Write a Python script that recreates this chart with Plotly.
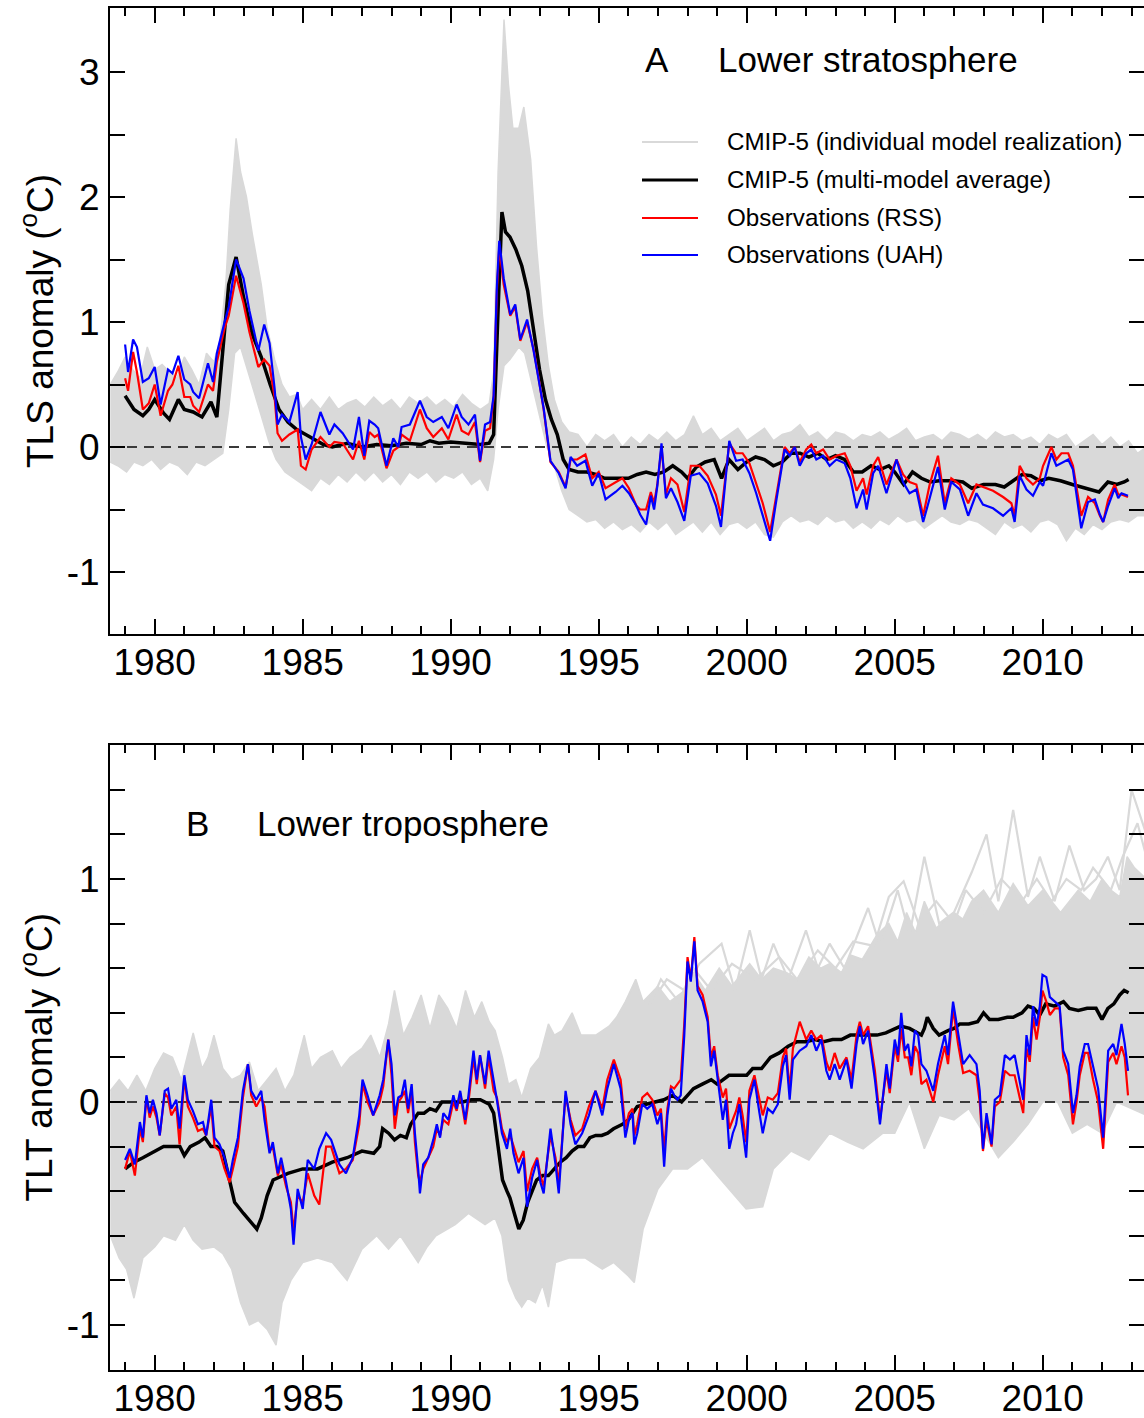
import plotly.graph_objects as go

# ---------------- Panel A : lower stratosphere (TLS) ----------------
A_OBS_T = [1979.0, 1979.1, 1979.27, 1979.4, 1979.6, 1979.8, 1980.0, 1980.2, 1980.45, 1980.6,
           1980.8, 1981.0, 1981.2, 1981.3, 1981.5, 1981.8, 1981.97, 1982.1, 1982.36, 1982.5,
           1982.75, 1983.0, 1983.2, 1983.5, 1983.7, 1983.88, 1984.05, 1984.15, 1984.3, 1984.55,
           1984.83, 1984.94, 1985.1, 1985.3, 1985.6, 1985.9, 1986.07, 1986.35, 1986.7, 1986.9,
           1987.08, 1987.25,
           1987.43, 1987.55, 1987.83, 1988.06, 1988.23, 1988.34, 1988.62, 1988.96, 1989.19, 1989.41,
           1989.7, 1989.92, 1990.2, 1990.37, 1990.6, 1990.82, 1990.99, 1991.16, 1991.33, 1991.45,
           1991.56, 1991.64, 1991.79, 1992.01, 1992.18, 1992.35, 1992.58, 1992.8, 1992.97, 1993.14,
           1993.37, 1993.65, 1993.88, 1994.05, 1994.27, 1994.55, 1994.78, 1995.0, 1995.23, 1995.57,
           1995.8, 1996.02,
           1996.27, 1996.4, 1996.6, 1996.76, 1996.87, 1996.98, 1997.12, 1997.27, 1997.44, 1997.66,
           1997.89, 1998.11, 1998.4, 1998.68, 1998.96, 1999.13, 1999.41, 1999.64, 1999.86, 2000.09,
           2000.32, 2000.54, 2000.79, 2000.99, 2001.28, 2001.45, 2001.62, 2001.79, 2002.01, 2002.18,
           2002.35, 2002.58, 2002.8, 2003.03, 2003.31, 2003.5, 2003.71, 2003.93, 2004.05, 2004.27,
           2004.44,
           2004.72, 2005.06, 2005.28, 2005.5, 2005.73, 2005.96, 2006.18, 2006.46, 2006.69, 2006.91,
           2007.2, 2007.48, 2007.76, 2007.98, 2008.32, 2008.66, 2008.94, 2009.05, 2009.22, 2009.45,
           2009.67, 2009.9, 2010.01, 2010.29, 2010.46, 2010.63, 2010.86, 2011.02, 2011.3, 2011.53,
           2011.76, 2011.93, 2012.04, 2012.21, 2012.43, 2012.55, 2012.66, 2012.88]

A_UAH = [0.82, 0.6, 0.86, 0.8, 0.52, 0.55, 0.64, 0.34, 0.62, 0.59,
         0.73, 0.54, 0.5, 0.44, 0.39, 0.67, 0.52, 0.75, 1.0, 1.12,
         1.5, 1.35, 1.09, 0.77, 0.98, 0.83, 0.47, 0.18, 0.26, 0.2,
         0.44, 0.08, -0.1, 0.02, 0.28, 0.1, 0.18, 0.11, -0.02, 0.24,
         -0.07, 0.21,
         0.18, 0.15, -0.15, 0.07, 0.0, 0.16, 0.18, 0.37, 0.24, 0.2,
         0.24, 0.15, 0.34, 0.24, 0.18, 0.26, -0.11, 0.18, 0.2, 0.41,
         1.29, 1.65, 1.35, 1.06, 1.14, 0.86, 1.02, 0.77, 0.54, 0.31,
         -0.11, -0.21, -0.33, -0.08, -0.15, -0.11, -0.31, -0.21, -0.42, -0.36,
         -0.31, -0.37,
         -0.47, -0.54, -0.62, -0.39, -0.5, -0.31, 0.03, -0.41, -0.33, -0.44,
         -0.59, -0.23, -0.21, -0.29, -0.47, -0.64, 0.05, -0.11, -0.1, -0.21,
         -0.37, -0.54, -0.75, -0.44, -0.02, -0.07, 0.0, -0.15, -0.05, -0.02,
         -0.1, -0.07, -0.15, -0.1, -0.13, -0.25, -0.49, -0.34, -0.5, -0.21,
         -0.15,
         -0.37, -0.1, -0.28, -0.37, -0.34, -0.6, -0.41, -0.16, -0.5, -0.28,
         -0.34, -0.55, -0.37, -0.46, -0.49, -0.55, -0.49, -0.6, -0.23, -0.34,
         -0.39, -0.28, -0.31, -0.05, -0.15, -0.13, -0.1, -0.18, -0.65, -0.44,
         -0.42, -0.54, -0.6, -0.47, -0.33, -0.41, -0.37, -0.39]

A_RSS = [0.55, 0.45, 0.76, 0.6, 0.3, 0.35, 0.5, 0.25, 0.45, 0.5,
         0.65, 0.4, 0.4, 0.33, 0.28, 0.5, 0.45, 0.68, 0.95, 1.05,
         1.37, 1.15, 0.92, 0.64, 0.7, 0.65, 0.4, 0.11, 0.05, 0.1,
         0.14, -0.15, -0.18, -0.02, 0.08, 0.0, 0.04, 0.03, -0.1, 0.05,
         -0.1, 0.12,
         0.08, 0.1, -0.17, -0.03, 0.0, 0.1, 0.05, 0.3, 0.15, 0.08,
         0.15, 0.06, 0.26, 0.13, 0.1, 0.2, -0.12, 0.13, 0.15, 0.4,
         1.25, 1.6, 1.3, 1.05, 1.12, 0.85, 1.0, 0.78, 0.55, 0.3,
         -0.12, -0.2, -0.32, -0.1, -0.1, -0.06, -0.25, -0.2, -0.33, -0.28,
         -0.25, -0.33,
         -0.47, -0.5, -0.5, -0.36, -0.45, -0.3, 0.0, -0.38, -0.25, -0.3,
         -0.52, -0.15, -0.15, -0.23, -0.38, -0.55, 0.03, -0.05, -0.05, -0.13,
         -0.3, -0.45, -0.68, -0.4, 0.0, -0.05, 0.0, -0.12, -0.02, 0.02,
         -0.05, -0.02, -0.1, -0.07, -0.05, -0.15, -0.35, -0.25, -0.38, -0.15,
         -0.08,
         -0.3, -0.1, -0.22, -0.28, -0.3, -0.55, -0.3, -0.07, -0.45, -0.25,
         -0.3, -0.45, -0.3, -0.32, -0.35, -0.4, -0.45, -0.55, -0.15, -0.25,
         -0.3, -0.25, -0.15, 0.0, -0.1, -0.05, -0.05, -0.15, -0.55, -0.4,
         -0.45, -0.55, -0.6, -0.42, -0.3, -0.38, -0.38, -0.4]

A_MEAN_T = [1979.0, 1979.3, 1979.6, 1979.8, 1980.0, 1980.3, 1980.5, 1980.8, 1981.0, 1981.3,
            1981.6, 1981.9, 1982.1, 1982.3, 1982.5, 1982.75, 1983.0, 1983.3, 1983.6, 1983.9,
            1984.2, 1984.5, 1984.8, 1985.1, 1985.4, 1985.7, 1986.0, 1986.5, 1987.0, 1987.5,
            1988.0, 1988.5, 1989.0, 1989.3, 1989.6, 1990.0, 1990.5, 1991.0, 1991.3, 1991.45,
            1991.6, 1991.73, 1991.85, 1992.0, 1992.2, 1992.4, 1992.6, 1992.8, 1993.0, 1993.2,
            1993.4, 1993.6, 1993.8, 1994.0, 1994.3, 1994.6, 1994.9, 1995.2, 1995.6, 1996.0,
            1996.3, 1996.6, 1996.9, 1997.2, 1997.5, 1997.8, 1998.0, 1998.3, 1998.6, 1998.9,
            1999.15, 1999.4, 1999.7, 2000.0, 2000.3, 2000.6, 2000.9, 2001.2, 2001.5, 2001.8,
            2002.1, 2002.4, 2002.7, 2003.0, 2003.3, 2003.6, 2003.9, 2004.2, 2004.5, 2004.8,
            2005.0, 2005.3, 2005.6, 2005.9, 2006.2, 2006.5, 2007.0, 2007.3, 2007.6, 2008.0,
            2008.4, 2008.7, 2009.0, 2009.3, 2009.6, 2009.9, 2010.2, 2010.6, 2011.0, 2011.5,
            2011.9, 2012.2, 2012.5, 2012.75, 2012.9]
A_MEAN = [0.41, 0.3, 0.25, 0.3, 0.38, 0.27, 0.22, 0.38, 0.3, 0.28,
          0.24, 0.36, 0.24, 0.75, 1.3, 1.52, 1.2, 0.9, 0.72, 0.5,
          0.3, 0.2, 0.14, 0.1, 0.06, 0.02, 0.0, 0.03, 0.0, 0.02,
          0.01, 0.03, 0.02, 0.05, 0.03, 0.04, 0.03, 0.02, 0.03, 0.1,
          1.1, 1.88, 1.72, 1.68, 1.58, 1.45, 1.25, 0.95, 0.62, 0.38,
          0.22, 0.1, -0.1, -0.18, -0.2, -0.2, -0.22, -0.25, -0.25, -0.25,
          -0.22, -0.2, -0.22, -0.2, -0.15, -0.2, -0.25, -0.16, -0.12, -0.1,
          -0.25, -0.1, -0.18, -0.12, -0.08, -0.1, -0.15, -0.12, -0.05, -0.05,
          -0.08, -0.05, -0.1, -0.07, -0.1, -0.2, -0.2, -0.15, -0.18, -0.15,
          -0.2, -0.3, -0.2, -0.25, -0.28, -0.27, -0.27, -0.28, -0.33, -0.3,
          -0.3, -0.32, -0.27, -0.22, -0.23, -0.27, -0.25, -0.27, -0.3, -0.33,
          -0.36, -0.28, -0.3, -0.28, -0.26]

A_UP_T = [1978.5, 1978.75, 1979.0, 1979.25, 1979.5, 1979.75, 1980.0, 1980.25, 1980.5, 1980.75,
          1981.0, 1981.25, 1981.5, 1981.75, 1982.0, 1982.2, 1982.4, 1982.55, 1982.75, 1982.9,
          1983.1, 1983.3, 1983.6, 1983.8, 1984.05, 1984.3, 1984.55, 1984.8, 1985.0, 1985.3,
          1985.6, 1985.9, 1986.2, 1986.5, 1986.8, 1987.1, 1987.4, 1987.7, 1988.0, 1988.3,
          1988.6, 1988.9, 1989.2, 1989.5, 1989.8, 1990.1, 1990.4, 1990.7, 1991.0, 1991.3,
          1991.45, 1991.6, 1991.8, 1991.95, 1992.1, 1992.3, 1992.47, 1992.7, 1992.9, 1993.1,
          1993.3, 1993.5, 1993.75, 1994.0, 1994.3, 1994.6, 1994.9, 1995.2, 1995.5, 1995.8,
          1996.1, 1996.4, 1996.7, 1997.0, 1997.3, 1997.6, 1997.9, 1998.2, 1998.5, 1998.8,
          1999.1, 1999.4, 1999.7, 2000.0, 2000.3, 2000.6, 2000.9, 2001.2, 2001.5, 2001.8,
          2002.1, 2002.4, 2002.7, 2003.0, 2003.3, 2003.6, 2003.9, 2004.2, 2004.5, 2004.8,
          2005.1, 2005.4, 2005.7, 2006.0, 2006.3, 2006.6, 2006.9, 2007.2, 2007.5, 2007.8,
          2008.1, 2008.4, 2008.7, 2009.0, 2009.3, 2009.6, 2009.9, 2010.2, 2010.5, 2010.8,
          2011.1, 2011.4, 2011.7, 2012.0, 2012.3, 2012.6, 2012.9, 2013.2, 2013.5]
A_UP = [0.5, 0.6, 0.72, 0.62, 0.55, 0.8, 0.62, 0.66, 0.6, 0.55,
        0.72, 0.62, 0.5, 0.75, 0.68, 0.85, 1.3, 1.9, 2.47, 2.2,
        2.0, 1.7, 1.3, 0.95, 0.7, 0.5, 0.4, 0.42, 0.3, 0.38,
        0.3, 0.4, 0.3, 0.35, 0.38, 0.32, 0.4, 0.33, 0.38, 0.3,
        0.4, 0.35, 0.4, 0.33, 0.38, 0.32, 0.42, 0.35, 0.3, 0.35,
        0.6, 2.2, 3.42, 2.9, 2.55, 2.55, 2.72, 2.3, 1.6, 1.05,
        0.65, 0.38, 0.2, 0.12, 0.1, 0.0, 0.1, 0.05, 0.1, 0.0,
        0.08, 0.02, 0.1, 0.05, 0.12, 0.05, 0.1, 0.25, 0.1, 0.15,
        0.05, 0.1, 0.15, 0.05, 0.1, 0.15, 0.05, 0.1, 0.12, 0.18,
        0.08, 0.12, 0.05, 0.12, 0.1, 0.05, 0.1, 0.08, 0.12, 0.06,
        0.1, 0.15, 0.05, 0.08, 0.1, 0.05, 0.12, 0.1, 0.06, 0.1,
        0.05, 0.12, 0.08, 0.1, 0.05, 0.08, 0.02, 0.1, 0.06, 0.1,
        0.0, 0.05, 0.1, 0.02, 0.08, 0.0, 0.05, -0.05, 0.0]

A_LO_T = [1978.5, 1978.75, 1979.05, 1979.3, 1979.6, 1979.9, 1980.2, 1980.5, 1980.8, 1981.1,
          1981.4, 1981.7, 1982.0, 1982.3, 1982.5, 1982.7, 1982.9, 1983.1, 1983.35, 1983.6,
          1983.85, 1984.1, 1984.4, 1984.7, 1985.0, 1985.3, 1985.6, 1985.9, 1986.2, 1986.5,
          1986.8, 1987.1, 1987.4, 1987.7, 1988.0, 1988.3, 1988.6, 1988.9, 1989.2, 1989.5,
          1989.8, 1990.1, 1990.4, 1990.7, 1991.0, 1991.25, 1991.45, 1991.6, 1991.8, 1992.0,
          1992.3, 1992.5, 1992.75, 1993.0, 1993.25, 1993.5, 1993.75, 1994.0, 1994.3, 1994.6,
          1994.9, 1995.2, 1995.5, 1995.8, 1996.1, 1996.4, 1996.7, 1997.0, 1997.3, 1997.6,
          1997.9, 1998.2, 1998.5, 1998.8, 1999.1, 1999.4, 1999.7, 2000.0, 2000.3, 2000.6,
          2000.9, 2001.2, 2001.5, 2001.8, 2002.1, 2002.4, 2002.7, 2003.0, 2003.3, 2003.6,
          2003.9, 2004.2, 2004.5, 2004.8, 2005.1, 2005.4, 2005.7, 2006.0, 2006.3, 2006.6,
          2006.9, 2007.2, 2007.5, 2007.8, 2008.1, 2008.4, 2008.7, 2009.0, 2009.3, 2009.6,
          2009.9, 2010.2, 2010.5, 2010.8, 2011.1, 2011.4, 2011.7, 2012.0, 2012.3, 2012.6,
          2012.9, 2013.2, 2013.5]
A_LO = [-0.12, -0.15, -0.2, -0.12, -0.15, -0.1, -0.18, -0.12, -0.15, -0.22,
        -0.12, -0.15, -0.1, -0.05, 0.3, 0.75, 0.8, 0.65, 0.45, 0.25,
        0.05, -0.1, -0.2, -0.25, -0.3, -0.35, -0.25, -0.3, -0.22, -0.28,
        -0.2, -0.27, -0.2, -0.28, -0.22, -0.3, -0.2, -0.25, -0.2, -0.28,
        -0.22, -0.25, -0.2, -0.3, -0.25, -0.35, -0.1, 0.3, 0.65, 0.7,
        0.8, 0.75, 0.5, 0.25, 0.0, -0.15, -0.35, -0.5, -0.55, -0.6,
        -0.58, -0.65, -0.6, -0.66, -0.62, -0.68, -0.6, -0.66, -0.6, -0.7,
        -0.65, -0.6, -0.68, -0.6, -0.7, -0.62, -0.6, -0.65, -0.6, -0.7,
        -0.72, -0.6, -0.55, -0.6, -0.58, -0.62, -0.55, -0.6, -0.58, -0.65,
        -0.6, -0.65, -0.58, -0.62, -0.55, -0.6, -0.58, -0.65, -0.6, -0.55,
        -0.6, -0.62, -0.58, -0.6, -0.65, -0.7, -0.6, -0.65, -0.62, -0.68,
        -0.6, -0.58, -0.62, -0.75, -0.65, -0.7, -0.62, -0.66, -0.6, -0.58,
        -0.6, -0.55, -0.55]

# ---------------- Panel B : lower troposphere (TLT) ----------------
B_OBS_T = [1979.0, 1979.16, 1979.33, 1979.5, 1979.6, 1979.72, 1979.83, 1979.94, 1980.06, 1980.17,
           1980.34, 1980.45, 1980.56, 1980.73, 1980.84, 1981.0, 1981.12, 1981.29, 1981.46, 1981.63,
           1981.74, 1981.91, 1982.02, 1982.19, 1982.36, 1982.53, 1982.64, 1982.81, 1982.98, 1983.15,
           1983.26, 1983.43, 1983.6, 1983.71, 1983.88, 1983.99, 1984.16, 1984.27, 1984.44, 1984.6,
           1984.69, 1984.83, 1985.0, 1985.17, 1985.39, 1985.56, 1985.79, 1985.96, 1986.24, 1986.46,
           1986.69, 1986.91, 1987.02, 1987.19,
           1987.38, 1987.6, 1987.72, 1987.89, 1988.0, 1988.11, 1988.23, 1988.34, 1988.45, 1988.56,
           1988.68, 1988.79, 1988.9, 1988.96, 1989.07, 1989.24, 1989.41, 1989.53, 1989.64, 1989.75,
           1989.92, 1990.09, 1990.2, 1990.32, 1990.49, 1990.6, 1990.77, 1990.88, 1990.99, 1991.16,
           1991.28, 1991.45, 1991.56, 1991.73, 1991.9, 1992.01, 1992.12, 1992.29, 1992.46, 1992.58,
           1992.75, 1992.92, 1993.03, 1993.14, 1993.37, 1993.54, 1993.65, 1993.88, 1994.05, 1994.21,
           1994.44, 1994.67, 1994.89, 1995.12, 1995.29, 1995.51, 1995.74, 1995.9,
           1996.02, 1996.14, 1996.2, 1996.3, 1996.47, 1996.64, 1996.81, 1996.98, 1997.1, 1997.21,
           1997.32, 1997.44, 1997.55, 1997.66, 1997.77, 1997.89, 1998.0, 1998.11, 1998.23, 1998.34,
           1998.51, 1998.68, 1998.79, 1998.9, 1999.02, 1999.19, 1999.3, 1999.41, 1999.53, 1999.64,
           1999.75, 1999.86, 1999.98, 2000.09, 2000.26, 2000.43, 2000.54, 2000.71, 2000.88, 2001.05,
           2001.22, 2001.33, 2001.45, 2001.56, 2001.79, 2002.01, 2002.18, 2002.35, 2002.52, 2002.69,
           2002.8, 2002.97, 2003.14, 2003.37, 2003.54, 2003.71, 2003.82, 2003.93, 2004.1, 2004.33,
           2004.5, 2004.72, 2004.83, 2005.0, 2005.11, 2005.22, 2005.34, 2005.45, 2005.56, 2005.68,
           2005.79, 2005.9, 2006.07, 2006.3, 2006.46, 2006.69, 2006.8, 2006.97, 2007.14, 2007.31,
           2007.53, 2007.76, 2007.87, 2007.98, 2008.1, 2008.27, 2008.38, 2008.55, 2008.72, 2008.89,
           2009.05, 2009.22, 2009.34, 2009.45, 2009.56, 2009.67, 2009.79, 2009.9, 2009.99, 2010.12,
           2010.24, 2010.41, 2010.57, 2010.69, 2010.86, 2011.02, 2011.14, 2011.25, 2011.42, 2011.53,
           2011.7, 2011.87, 2012.04, 2012.21, 2012.38, 2012.49, 2012.66, 2012.77, 2012.88]

B_UAH = [-0.26, -0.21, -0.28, -0.09, -0.16, 0.03, -0.05, 0.01, -0.05, -0.15,
         0.05, 0.06, -0.03, 0.01, -0.12, 0.12, 0.01, -0.04, -0.1, -0.09,
         -0.15, 0.01, -0.16, -0.19, -0.25, -0.34, -0.26, -0.16, 0.05, 0.17,
         0.05, 0.01, 0.05, -0.08, -0.23, -0.18, -0.32, -0.25, -0.36, -0.48,
         -0.64, -0.39, -0.48, -0.26, -0.3, -0.21, -0.14, -0.17, -0.28, -0.32,
         -0.25, -0.06, 0.1, 0.03,
         -0.06, 0.03, 0.1, 0.28, 0.17, -0.06, 0.02, 0.03, 0.1, -0.03,
         0.08, -0.14, -0.3, -0.41, -0.28, -0.25, -0.17, -0.1, -0.16, -0.05,
         -0.08, 0.03, -0.03, 0.05, -0.08, 0.03, 0.23, 0.1, 0.21, 0.08,
         0.23, 0.1, 0.01, -0.14, -0.21, -0.12, -0.23, -0.32, -0.25, -0.47,
         -0.34, -0.26, -0.36, -0.41, -0.12, -0.28, -0.41, 0.05, -0.1, -0.19,
         -0.14, -0.06, 0.05, -0.06, 0.06, 0.17, 0.06, -0.16,
         -0.08, -0.05, -0.19, -0.14, -0.01, -0.03, -0.01, -0.1, -0.05, -0.29,
         -0.06, 0.06, 0.03, 0.01, 0.03, 0.3, 0.63, 0.54, 0.72, 0.5,
         0.45, 0.36, 0.16, 0.23, 0.1, -0.08, 0.01, -0.21, -0.14, -0.1,
         -0.01, -0.12, -0.25, 0.01, 0.1, -0.05, -0.14, -0.03, -0.05, -0.01,
         0.16, 0.21, 0.01, 0.19, 0.23, 0.25, 0.3, 0.23, 0.28, 0.14,
         0.1, 0.17, 0.1, 0.19, 0.06, 0.26, 0.34, 0.26, 0.32, 0.1,
         -0.1, 0.17, 0.06, 0.28, 0.21, 0.4, 0.23, 0.26, 0.16, 0.32,
         0.3, 0.17, 0.14, 0.05, 0.17, 0.3, 0.21, 0.45, 0.3, 0.17,
         0.21, 0.17, 0.05, -0.21, -0.05, -0.19, 0.01, 0.03, 0.21, 0.19,
         0.21, 0.1, 0.01, 0.3, 0.21, 0.43, 0.34, 0.43, 0.57, 0.56,
         0.47, 0.45, 0.43, 0.23, 0.17, -0.05, 0.03, 0.16, 0.26, 0.26,
         0.16, 0.06, -0.16, 0.23, 0.26, 0.21, 0.35, 0.26, 0.14]

B_RSS = [-0.3, -0.22, -0.33, -0.12, -0.18, 0.02, -0.07, -0.02, -0.07, -0.15,
         0.04, 0.02, -0.06, -0.02, -0.19, 0.11, -0.02, -0.07, -0.13, -0.12,
         -0.15, -0.02, -0.2, -0.22, -0.3, -0.36, -0.3, -0.2, 0.02, 0.17,
         0.03, -0.02, 0.02, -0.02, -0.22, -0.2, -0.33, -0.28, -0.38, -0.45,
         -0.58, -0.42, -0.45, -0.32, -0.42, -0.46, -0.2, -0.2, -0.32, -0.3,
         -0.26, -0.1, 0.08, 0.0,
         -0.06, 0.0, 0.07, 0.28, 0.12, -0.12, 0.0, 0.02, 0.05, -0.05,
         0.05, -0.18, -0.33, -0.36, -0.3, -0.25, -0.2, -0.12, -0.15, -0.08,
         -0.1, 0.0, -0.04, 0.04, -0.1, 0.0, 0.2, 0.08, 0.21, 0.06,
         0.2, 0.05, 0.02, -0.12, -0.18, -0.15, -0.2, -0.27, -0.22, -0.4,
         -0.3, -0.25, -0.33, -0.38, -0.15, -0.25, -0.37, 0.03, -0.08, -0.15,
         -0.12, -0.02, 0.05, -0.03, 0.1, 0.19, 0.1, -0.12,
         -0.05, -0.03, -0.15, -0.1, 0.02, 0.04, 0.01, -0.06, -0.03, -0.22,
         -0.03, 0.07, 0.06, 0.08, 0.1, 0.35, 0.65, 0.55, 0.74, 0.52,
         0.48, 0.38, 0.2, 0.25, 0.12, 0.02, 0.06, -0.12, -0.08, -0.04,
         0.02, -0.06, -0.18, 0.05, 0.12, 0.02, -0.06, 0.02, 0.01, 0.04,
         0.2, 0.24, 0.05, 0.24, 0.36, 0.28, 0.32, 0.28, 0.3, 0.18,
         0.14, 0.22, 0.15, 0.2, 0.1, 0.3, 0.36, 0.3, 0.34, 0.14,
         -0.08, 0.14, 0.04, 0.25, 0.18, 0.33, 0.2, 0.2, 0.12, 0.25,
         0.22, 0.08, 0.1, 0.0, 0.12, 0.25, 0.17, 0.42, 0.26, 0.13,
         0.14, 0.12, 0.0, -0.22, -0.08, -0.2, -0.02, 0.0, 0.14, 0.12,
         0.12, 0.02, -0.05, 0.24, 0.18, 0.38, 0.28, 0.38, 0.5, 0.45,
         0.39, 0.42, 0.42, 0.2, 0.12, -0.1, 0.0, 0.12, 0.22, 0.22,
         0.1, 0.0, -0.21, 0.18, 0.22, 0.17, 0.25, 0.2, 0.03]

B_MEAN_T = [1979.0, 1979.3, 1979.6, 1980.0, 1980.3, 1980.6, 1980.85, 1981.0, 1981.2, 1981.5,
            1981.7, 1981.9, 1982.1, 1982.3, 1982.5, 1982.7, 1983.0, 1983.3, 1983.45, 1983.6,
            1983.8, 1984.0, 1984.5, 1985.0, 1985.5, 1986.0, 1986.5, 1987.0, 1987.4, 1987.6,
            1987.7, 1987.9, 1988.1, 1988.3, 1988.5, 1988.65, 1988.9, 1989.1, 1989.3, 1989.5,
            1989.7, 1990.0, 1990.4, 1990.7, 1991.0, 1991.3, 1991.45, 1991.6, 1991.75, 1991.9,
            1992.0, 1992.15, 1992.3, 1992.45, 1992.6, 1992.75, 1992.9, 1993.1, 1993.3, 1993.5,
            1993.7, 1993.9, 1994.1, 1994.3, 1994.5, 1994.7, 1994.9, 1995.1, 1995.3, 1995.5,
            1995.8, 1996.0, 1996.3, 1996.6, 1996.9, 1997.2, 1997.5, 1997.8, 1998.0, 1998.2,
            1998.5, 1998.8, 1999.0, 1999.2, 1999.4, 1999.7, 2000.0, 2000.2, 2000.5, 2000.8,
            2001.1, 2001.4, 2001.7, 2002.0, 2002.3, 2002.6, 2002.9, 2003.2, 2003.5, 2003.8,
            2004.1, 2004.4, 2004.7, 2005.0, 2005.2, 2005.5, 2005.9, 2006.0, 2006.1, 2006.3,
            2006.5, 2006.8, 2007.0, 2007.2, 2007.5, 2007.8, 2008.0, 2008.2, 2008.5, 2008.8,
            2009.0, 2009.3, 2009.5, 2009.7, 2009.9, 2010.1, 2010.4, 2010.7, 2010.9, 2011.2,
            2011.5, 2011.8, 2012.0, 2012.2, 2012.4, 2012.6, 2012.75, 2012.9]
B_MEAN = [-0.3, -0.27, -0.25, -0.22, -0.2, -0.2, -0.2, -0.24, -0.2, -0.18,
          -0.16, -0.2, -0.2, -0.22, -0.33, -0.45, -0.5, -0.55, -0.57, -0.52,
          -0.42, -0.35, -0.32, -0.3, -0.3, -0.27, -0.25, -0.22, -0.23, -0.2,
          -0.12, -0.14, -0.17, -0.15, -0.16, -0.1, -0.05, -0.05, -0.03, -0.04,
          0.0, 0.0, 0.0, 0.01, 0.01, -0.01, -0.05, -0.2, -0.35, -0.4,
          -0.43, -0.5, -0.57, -0.53, -0.45, -0.4, -0.35, -0.33, -0.33, -0.3,
          -0.27, -0.25, -0.22, -0.2, -0.2, -0.16, -0.15, -0.15, -0.14, -0.12,
          -0.1, -0.08, -0.02, -0.01, 0.0, 0.01, 0.03, 0.0, 0.03, 0.06,
          0.08, 0.1, 0.08, 0.1, 0.12, 0.12, 0.12, 0.15, 0.15, 0.2,
          0.22, 0.25, 0.27, 0.27, 0.28, 0.27, 0.28, 0.28, 0.3, 0.3,
          0.3, 0.3, 0.31, 0.33, 0.34, 0.33, 0.3, 0.33, 0.38, 0.33,
          0.3, 0.32, 0.33, 0.35, 0.35, 0.36, 0.4, 0.37, 0.37, 0.38,
          0.38, 0.4, 0.43, 0.42, 0.39, 0.44, 0.43, 0.45, 0.42, 0.41,
          0.42, 0.42, 0.37, 0.42, 0.44, 0.48, 0.5, 0.49]

# dense part of the model spread (upper / lower edges)
B_UP_T = [1978.5, 1978.8, 1979.1, 1979.4, 1979.7, 1980.0, 1980.3, 1980.6, 1980.9, 1981.1,
          1981.3, 1981.6, 1981.8, 1982.0, 1982.3, 1982.6, 1982.9, 1983.2, 1983.5, 1983.8,
          1984.1, 1984.4, 1984.7, 1985.05, 1985.3, 1985.6, 1986.0, 1986.3, 1986.6, 1987.0,
          1987.3, 1987.6, 1987.9, 1988.1, 1988.4, 1988.7, 1989.0, 1989.3, 1989.6, 1989.9,
          1990.2, 1990.5, 1990.8, 1991.05, 1991.3, 1991.5, 1991.75, 1991.95, 1992.2, 1992.4,
          1992.7, 1993.0, 1993.3, 1993.5, 1993.76, 1994.1, 1994.4, 1994.9, 1995.35, 1995.6,
          1995.9, 1996.25, 1996.5, 1997.0, 1997.4, 1997.9, 1998.2, 1998.6, 1999.07, 1999.5,
          2000.1, 2000.5, 2000.9, 2001.35, 2001.7, 2002.1, 2002.5, 2002.8, 2003.2, 2003.5,
          2003.9, 2004.4, 2004.8, 2005.1, 2005.4, 2005.7, 2006.0, 2006.4, 2007.0, 2007.3,
          2007.6, 2008.0, 2008.5, 2009.0, 2009.5, 2010.0, 2010.6, 2011.2, 2011.6, 2012.0,
          2012.3, 2012.6, 2012.85, 2013.1, 2013.5]
B_UP = [0.05, 0.1, 0.05, 0.12, 0.05, 0.15, 0.22, 0.2, 0.1, 0.2,
        0.31, 0.15, 0.2, 0.3, 0.15, 0.1, 0.12, 0.18, 0.05, 0.1,
        0.15, 0.05, 0.12, 0.3, 0.15, 0.2, 0.23, 0.15, 0.2, 0.24,
        0.3, 0.2, 0.35, 0.5, 0.3, 0.38, 0.48, 0.33, 0.48, 0.42,
        0.33, 0.5, 0.38, 0.45, 0.36, 0.32, 0.2, 0.08, 0.1, 0.02,
        0.15, 0.2, 0.35, 0.3, 0.32, 0.4, 0.3, 0.3, 0.34, 0.38,
        0.45, 0.55, 0.45, 0.52, 0.45, 0.5, 0.58, 0.5, 0.6, 0.52,
        0.62, 0.55, 0.6, 0.58, 0.55, 0.65, 0.6, 0.62, 0.58, 0.66,
        0.64, 0.75, 0.8, 0.72, 0.85, 0.76, 0.9, 0.78, 0.85, 0.82,
        0.9, 0.95, 0.85, 0.98, 0.88, 0.95, 0.85, 0.95, 0.9, 1.0,
        0.95, 0.92, 1.1, 1.05, 1.0]

B_LO_T = [1978.5, 1978.8, 1979.05, 1979.3, 1979.6, 1980.0, 1980.3, 1980.7, 1981.0, 1981.3,
          1981.6, 1982.0, 1982.3, 1982.6, 1982.9, 1983.2, 1983.5, 1983.8, 1984.1, 1984.3,
          1984.6, 1985.0, 1985.5, 1986.0, 1986.5, 1987.0, 1987.5, 1987.9, 1988.3, 1988.9,
          1989.2, 1989.5, 1990.15, 1990.6, 1991.16, 1991.5, 1991.73, 1991.95, 1992.2, 1992.4,
          1992.6, 1992.86, 1993.1, 1993.3, 1993.54, 1993.99, 1994.55, 1995.12, 1995.5, 1996.0,
          1996.2, 1996.5, 1997.0, 1997.5, 1998.0, 1998.5, 1999.07, 1999.98, 2000.54, 2000.9,
          2001.5, 2002.1, 2002.8, 2003.4, 2003.93, 2004.6, 2005.0, 2005.5, 2006.0, 2006.5,
          2007.0, 2007.5, 2008.0, 2008.5, 2009.0, 2009.5, 2010.0, 2010.5, 2011.0, 2011.5,
          2012.0, 2012.5, 2013.0, 2013.5]
B_LO = [-0.6, -0.7, -0.75, -0.88, -0.7, -0.65, -0.6, -0.62, -0.55, -0.62,
        -0.66, -0.65, -0.68, -0.75, -0.9, -1.0, -0.98, -1.02, -1.09, -0.9,
        -0.8, -0.72, -0.7, -0.72, -0.8, -0.66, -0.6, -0.66, -0.6, -0.72,
        -0.65, -0.6, -0.55, -0.5, -0.55, -0.52, -0.6, -0.8, -0.88, -0.92,
        -0.88, -0.9, -0.82, -0.92, -0.72, -0.7, -0.7, -0.75, -0.72, -0.78,
        -0.81, -0.57, -0.39, -0.3, -0.3, -0.25, -0.34, -0.48, -0.47, -0.3,
        -0.22, -0.26, -0.14, -0.18, -0.21, -0.14, -0.14, 0.0, -0.21, -0.06,
        -0.08, -0.03, -0.14, -0.25, -0.18, -0.1, 0.0, 0.0, -0.14, -0.1,
        -0.14, 0.0, -0.03, -0.06]

# two warm realizations that stand out above the dense spread
B_HI1_T = [1996.8, 1997.3, 1997.9, 1998.4, 1999.15, 1999.6, 2000.1, 2000.5, 2000.9, 2001.4,
           2002.0, 2002.4, 2002.8, 2003.3, 2004.1, 2004.5, 2005.1, 2005.5, 2006.0, 2006.5,
           2007.0, 2007.6, 2008.1, 2008.5, 2009.0, 2009.5, 2009.9, 2010.4, 2010.9, 2011.4,
           2011.8, 2012.2, 2012.6, 2013.0, 2013.5]
B_HI1 = [0.45, 0.55, 0.5, 0.62, 0.71, 0.5, 0.77, 0.55, 0.71, 0.55,
         0.77, 0.6, 0.71, 0.6, 0.87, 0.7, 0.95, 0.75, 1.1, 0.8,
         0.85, 1.03, 1.2, 0.9, 1.31, 0.92, 1.1, 0.9, 1.15, 0.95,
         1.0, 1.1, 0.95, 1.4, 1.2]
B_HI2_T = [1996.6, 1997.1, 1997.7, 1998.2, 1998.8, 1999.5, 2000.3, 2001.1, 2001.7, 2002.4,
           2003.0, 2003.6, 2004.3, 2004.8, 2005.3, 2005.8, 2006.4, 2007.0, 2007.4, 2008.0,
           2008.6, 2009.3, 2009.8, 2010.3, 2010.8, 2011.3, 2011.7, 2012.3, 2012.7, 2013.2,
           2013.5]
B_HI2 = [0.4, 0.55, 0.45, 0.6, 0.5, 0.62, 0.55, 0.65, 0.55, 0.68,
         0.6, 0.72, 0.7, 0.92, 0.99, 0.8, 0.9, 0.8, 0.95, 0.85,
         1.0, 0.9, 1.0, 0.9, 1.0, 0.95, 1.05, 0.95, 1.1, 1.25,
         1.1]

# ---------------- axes / labels ----------------
X_MIN, X_MAX = 1978.49, 2013.42
A_YRANGE = [-1.496, 3.512]
B_YRANGE = [-1.202, 1.601]
YEAR_TICKS = [1980, 1985, 1990, 1995, 2000, 2005, 2010]
YEAR_MINOR = [y for y in range(1979, 2014) if y % 5 != 0]
A_YTICKS = [-1, 0, 1, 2, 3]
A_YMINOR = [-0.5, 0.5, 1.5, 2.5]
B_YTICKS = [-1, 0, 1]
B_YMINOR = [-0.8, -0.6, -0.4, -0.2, 0.2, 0.4, 0.6, 0.8, 1.2, 1.4]
LEGEND_LABELS = ["CMIP-5 (individual model realization)", "CMIP-5 (multi-model average)",
                 "Observations (RSS)", "Observations (UAH)"]

for name, a, b in [("A_OBS", A_OBS_T, A_UAH), ("A_RSS", A_OBS_T, A_RSS), ("A_MEAN", A_MEAN_T, A_MEAN),
                   ("A_UP", A_UP_T, A_UP), ("A_LO", A_LO_T, A_LO), ("B_OBS", B_OBS_T, B_UAH),
                   ("B_RSS", B_OBS_T, B_RSS), ("B_MEAN", B_MEAN_T, B_MEAN), ("B_UP", B_UP_T, B_UP),
                   ("B_LO", B_LO_T, B_LO), ("B_HI1", B_HI1_T, B_HI1), ("B_HI2", B_HI2_T, B_HI2)]:
    if len(a) != len(b):
        raise ValueError(f"{name}: {len(a)} vs {len(b)}")

GRAY = "#d9d9d9"
RED = "#ff0000"
BLUE = "#0000ff"
FONT = "Liberation Sans, Arial, Helvetica, sans-serif"

fig = go.Figure()


def add_panel(xa, ya, up_t, up_v, lo_t, lo_v, mean_t, mean_v, obs_t, rss, uah, extra=()):
    fig.add_trace(go.Scatter(x=up_t + lo_t[::-1], y=up_v + lo_v[::-1], mode="lines",
                             fill="toself", fillcolor=GRAY, line=dict(color=GRAY, width=1.5),
                             xaxis=xa, yaxis=ya, showlegend=False, hoverinfo="skip",
                             name=LEGEND_LABELS[0]))
    for et, ev in extra:
        fig.add_trace(go.Scatter(x=et, y=ev, mode="lines", line=dict(color=GRAY, width=2.2),
                                 xaxis=xa, yaxis=ya, showlegend=False, hoverinfo="skip",
                                 name=LEGEND_LABELS[0]))
    fig.add_trace(go.Scatter(x=[X_MIN, X_MAX], y=[0, 0], mode="lines",
                             line=dict(color="#3a3a3a", width=1.8, dash="10px,7px"),
                             xaxis=xa, yaxis=ya, showlegend=False, hoverinfo="skip"))
    fig.add_trace(go.Scatter(x=mean_t, y=mean_v, mode="lines", line=dict(color="black", width=3.5),
                             xaxis=xa, yaxis=ya, showlegend=False, name=LEGEND_LABELS[1]))
    fig.add_trace(go.Scatter(x=obs_t, y=rss, mode="lines", line=dict(color=RED, width=2.2),
                             xaxis=xa, yaxis=ya, showlegend=False, name=LEGEND_LABELS[2]))
    fig.add_trace(go.Scatter(x=obs_t, y=uah, mode="lines", line=dict(color=BLUE, width=2.2),
                             xaxis=xa, yaxis=ya, showlegend=False, name=LEGEND_LABELS[3]))


add_panel("x", "y", A_UP_T, A_UP, A_LO_T, A_LO, A_MEAN_T, A_MEAN, A_OBS_T, A_RSS, A_UAH)
add_panel("x2", "y2", B_UP_T, B_UP, B_LO_T, B_LO, B_MEAN_T, B_MEAN, B_OBS_T, B_RSS, B_UAH,
          extra=[(B_HI1_T, B_HI1), (B_HI2_T, B_HI2)])

TICKFONT = dict(family=FONT, size=37, color="black")


def xaxis_cfg(anchor):
    return dict(range=[X_MIN, X_MAX], domain=[0, 1], anchor=anchor, showline=True,
                linecolor="black", linewidth=2, mirror="allticks", ticks="inside",
                ticklen=15, tickwidth=2, tickcolor="black", tickmode="array",
                tickvals=YEAR_TICKS, ticktext=[str(v) for v in YEAR_TICKS],
                minor=dict(tickmode="array", tickvals=YEAR_MINOR, ticks="inside", ticklen=8,
                           tickwidth=2, tickcolor="black", showgrid=False),
                showgrid=False, zeroline=False, tickfont=TICKFONT, ticklabelstandoff=-5,
                automargin=False)


def yaxis_cfg(anchor, rng, dom, major, minor):
    return dict(range=rng, domain=dom, anchor=anchor, showline=True, linecolor="black",
                linewidth=2, mirror="allticks", ticks="inside", ticklen=15, tickwidth=2,
                tickcolor="black", tickmode="array", tickvals=major,
                ticktext=[str(v) for v in major],
                minor=dict(tickmode="array", tickvals=minor, ticks="inside", ticklen=15,
                           tickwidth=2, tickcolor="black", showgrid=False),
                showgrid=False, zeroline=False, tickfont=TICKFONT, ticklabelstandoff=1,
                automargin=False)


W, H = 1144, 1418
ML, MR, MT, MB = 110, 0, 8, 48
PW, PH = W - ML - MR, H - MT - MB


def px(xpix):
    return (xpix - ML) / PW


def py(ypix):
    return (H - MB - ypix) / PH


A_DOM = [py(634), 1.0]
B_DOM = [0.0, py(745)]

fig.update_layout(
    width=W, height=H, margin=dict(l=ML, r=MR, t=MT, b=MB, autoexpand=False),
    paper_bgcolor="white", plot_bgcolor="white", showlegend=False,
    font=dict(family=FONT, color="black"),
    xaxis=xaxis_cfg("y"), yaxis=yaxis_cfg("x", A_YRANGE, A_DOM, A_YTICKS, A_YMINOR),
    xaxis2=xaxis_cfg("y2"), yaxis2=yaxis_cfg("x2", B_YRANGE, B_DOM, B_YTICKS, B_YMINOR),
)

ann = []
TITLE_FONT = dict(size=37, family=FONT)
LABEL_FONT = dict(size=35, family=FONT)
ann.append(dict(text="TLS anomaly (<sup>o</sup>C)", x=px(37), y=(A_DOM[0] + A_DOM[1]) / 2,
                xref="paper", yref="paper", textangle=-90, showarrow=False,
                xanchor="center", yanchor="middle", font=TITLE_FONT))
ann.append(dict(text="TLT anomaly (<sup>o</sup>C)", x=px(37), y=(B_DOM[0] + B_DOM[1]) / 2,
                xref="paper", yref="paper", textangle=-90, showarrow=False,
                xanchor="center", yanchor="middle", font=TITLE_FONT))
ann.append(dict(text="A", x=px(657), y=py(60), xref="paper", yref="paper", showarrow=False,
                xanchor="center", yanchor="middle", font=LABEL_FONT))
ann.append(dict(text="Lower stratosphere", x=px(716), y=py(60), xref="paper", yref="paper",
                showarrow=False, xanchor="left", yanchor="middle", font=LABEL_FONT))
ann.append(dict(text="B", x=px(197), y=py(823), xref="paper", yref="paper", showarrow=False,
                xanchor="center", yanchor="middle", font=LABEL_FONT))
ann.append(dict(text="Lower troposphere", x=px(255), y=py(823), xref="paper", yref="paper",
                showarrow=False, xanchor="left", yanchor="middle", font=LABEL_FONT))

# custom legend (panel A)
LEG_ROWS = [142, 180, 218, 255]
LEG_COLORS = [GRAY, "black", RED, BLUE]
LEG_WIDTHS = [2, 3, 2, 2]
shapes = []
for lbl, row, col, lw in zip(LEGEND_LABELS, LEG_ROWS, LEG_COLORS, LEG_WIDTHS):
    ann.append(dict(text=lbl, x=px(725), y=py(row), xref="paper", yref="paper", showarrow=False,
                    xanchor="left", yanchor="middle", font=dict(size=24.2, family=FONT)))
    shapes.append(dict(type="line", xref="paper", yref="paper", x0=px(642), x1=px(698),
                       y0=py(row), y1=py(row), line=dict(color=col, width=lw)))

fig.update_layout(annotations=ann, shapes=shapes)

fig.write_html("out.html")
